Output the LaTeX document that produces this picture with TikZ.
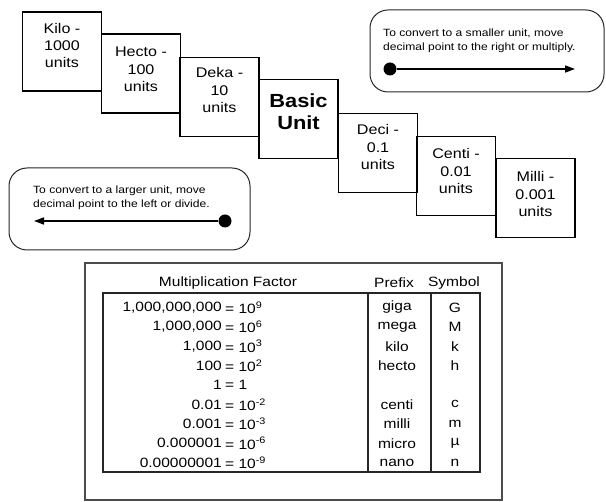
\documentclass[tikz,border=0pt]{standalone}
\usepackage{fontspec}
\setmainfont[FakeStretch=1.15]{Liberation Sans}
\usetikzlibrary{arrows.meta}
\begin{document}
\begin{tikzpicture}[
  x=1pt, y=-1pt,
  unitbox/.style={draw=black, line width=1.2pt, minimum width=79pt, minimum height=79pt, inner sep=0pt},
  unittext/.style={align=center, font=\fontsize{14}{17.5}\selectfont},
  basictext/.style={align=center, font=\fontsize{19}{22}\selectfont\bfseries},
  rulebox/.style={draw=black!85, line width=1pt, rounded corners=18pt, inner sep=0pt},
  ruletext/.style={align=left, anchor=north west, inner sep=0pt, font=\fontsize{10.5}{14}\selectfont},
  bigdot/.style={circle, fill=black, minimum size=13pt, inner sep=0pt},
  convarrow/.style={line width=1.6pt, draw=black, -{Triangle[length=10pt, width=7pt]}},
  tablebox/.style={draw=black!70, line width=1.4pt, inner sep=0pt},
  tableline/.style={draw=black!85, line width=1.1pt},
  cell/.style={inner sep=0pt, font=\fontsize{13.5}{16}\selectfont}
]
  \useasboundingbox (0,0) rectangle (606,502);

  % Escalera de unidades
  \node[unitbox] (kilo)  at (62,51.5)   {};
  \node[unitbox] (hecto) at (141,73.5)  {};
  \node[unitbox] (deka)  at (219.5,97)  {};
  \node[unitbox] (basic) at (298.5,119) {};
  \node[unitbox] (deci)  at (378,153)   {};
  \node[unitbox] (centi) at (456,176)   {};
  \node[unitbox] (milli) at (535.5,198) {};

  \node[unittext] (kilotext)  at ([yshift=6pt]kilo.center)  {Kilo -\\1000\\units};
  \node[unittext] (hectotext) at ([yshift=4pt]hecto.center) {Hecto -\\100\\units};
  \node[unittext] (dekatext)  at ([yshift=7pt]deka.center)  {Deka -\\10\\units};
  \node[basictext] (basictext) at ([yshift=7pt]basic.center) {Basic\\Unit};
  \node[unittext] (decitext)  at ([yshift=6pt]deci.center)  {Deci -\\0.1\\units};
  \node[unittext] (centitext) at ([yshift=5pt]centi.center) {Centi -\\0.01\\units};
  \node[unittext] (millitext) at ([yshift=4pt]milli.center) {Milli -\\0.001\\units};

  % Reglas de conversion
  \node[rulebox, minimum width=234pt, minimum height=82pt] (smaller) at (487,51) {};
  \node[ruletext] (smallertext) at (383,28.5)
    {To convert to a smaller unit, move\\decimal point to the right or multiply.};
  \node[bigdot] (rdot) at (390,69) {};
  \coordinate (rend) at (575,69);
  \draw[convarrow] (rdot) -- (rend);

  \node[rulebox, minimum width=241pt, minimum height=82pt] (larger) at (129.5,209) {};
  \node[ruletext] (largertext) at (33,185.5)
    {To convert to a larger unit, move\\decimal point to the left or divide.};
  \node[bigdot] (ldot) at (225,221) {};
  \coordinate (lend) at (34,221);
  \draw[convarrow] (ldot) -- (lend);

  % Tabla de prefijos
  \node[tablebox, minimum width=417pt, minimum height=237pt] (table) at (293.5,381.5) {};
  \node[tableline, draw, minimum width=377pt, minimum height=179pt, inner sep=0pt] (inner) at (291.5,382.5) {};
  \draw[tableline] (368,293) -- (368,472);
  \draw[tableline] (431,293) -- (431,472);

  \node[cell] (hfactor) at (228,283) {Multiplication Factor};
  \node[cell] (hprefix) at (394,283) {Prefix};
  \node[cell] (hsymbol) at (454,283) {Symbol};

  \foreach \lhs/\rhs/\pre/\sym [count=\i] in {
      {1,000,000,000}/{= 10\textsuperscript{9}}/giga/G,
      {1,000,000}/{= 10\textsuperscript{6}}/mega/M,
      {1,000}/{= 10\textsuperscript{3}}/kilo/k,
      100/{= 10\textsuperscript{2}}/hecto/h,
      1/{= 1}/{}/{},
      0.01/{= 10\textsuperscript{-2}}/centi/c,
      0.001/{= 10\textsuperscript{-3}}/milli/m,
      0.000001/{= 10\textsuperscript{-6}}/micro/µ,
      0.00000001/{= 10\textsuperscript{-9}}/nano/n}{
    \node[cell, anchor=east] (lhs\i) at (222,288+19.4*\i) {\lhs};
    \node[cell, anchor=west] (rhs\i) at (225,288+19.4*\i) {\rhs};
    \node[cell] (pre\i) at (397,288+19.4*\i) {\pre};
    \node[cell] (sym\i) at (455,288+19.4*\i) {\sym};
  }

\end{tikzpicture}
\end{document}
